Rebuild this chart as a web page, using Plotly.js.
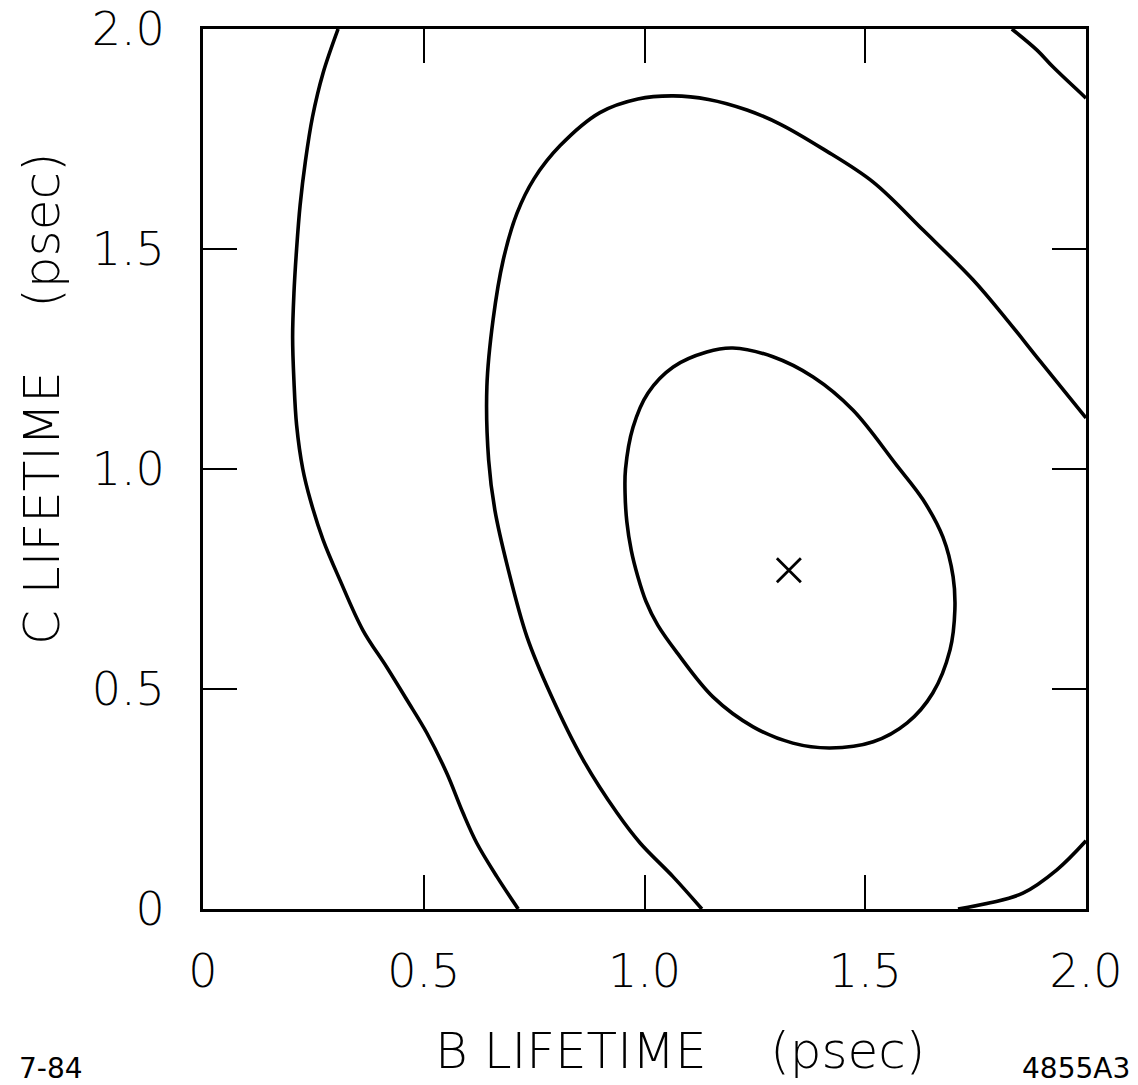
<!DOCTYPE html>
<html>
<head>
<meta charset="utf-8">
<script src="https://cdn.plot.ly/plotly-3.0.1.min.js"></script>
<style>html,body{margin:0;padding:0;background:#fff;}#chart{width:1138px;height:1085px;}</style>
</head>
<body>
<div id="chart"></div>
<script>
// Contour curves (B lifetime, C lifetime in psec)
var outerX = [0.306, 0.272, 0.248, 0.232, 0.220, 0.212, 0.206, 0.203, 0.206, 0.212, 0.226, 0.243, 0.272, 0.310, 0.362, 0.416, 0.462, 0.507, 0.552, 0.589, 0.620, 0.666, 0.714];
var outerY = [2.000, 1.900, 1.800, 1.700, 1.600, 1.500, 1.400, 1.300, 1.200, 1.100, 1.000, 0.930, 0.839, 0.748, 0.634, 0.550, 0.475, 0.400, 0.309, 0.218, 0.150, 0.073, 0.000];

var middleX = [1.130, 1.065, 0.990, 0.938, 0.861, 0.786, 0.734, 0.690, 0.661, 0.647, 0.643, 0.657, 0.680, 0.711, 0.750, 0.809, 0.899, 0.985, 1.065, 1.145, 1.232, 1.307, 1.405, 1.518, 1.631, 1.744, 1.821, 1.896, 2.000];
var middleY = [0.000, 0.073, 0.150, 0.218, 0.339, 0.491, 0.618, 0.777, 0.907, 1.020, 1.187, 1.339, 1.475, 1.581, 1.660, 1.735, 1.810, 1.841, 1.848, 1.840, 1.816, 1.784, 1.727, 1.652, 1.543, 1.430, 1.339, 1.245, 1.116];

var innerX = [1.200, 1.291, 1.382, 1.472, 1.570, 1.631, 1.676, 1.699, 1.703, 1.692, 1.653, 1.595, 1.518, 1.420, 1.336, 1.246, 1.155, 1.074, 1.030, 1.003, 0.985, 0.970, 0.960, 0.956, 0.957, 0.974, 1.008, 1.065, 1.141, 1.200];
var innerY = [1.275, 1.255, 1.209, 1.134, 1.010, 0.930, 0.845, 0.755, 0.680, 0.589, 0.491, 0.423, 0.380, 0.366, 0.377, 0.414, 0.482, 0.582, 0.645, 0.700, 0.755, 0.815, 0.880, 0.945, 1.000, 1.095, 1.173, 1.232, 1.266, 1.275];

var cornerTopX = [1.832, 1.889, 1.925, 2.000];
var cornerTopY = [2.000, 1.952, 1.914, 1.843];

var cornerBottomX = [1.710, 1.783, 1.857, 1.934, 2.000];
var cornerBottomY = [0.000, 0.014, 0.036, 0.089, 0.155];

var bestX = [1.327];
var bestY = [0.770];

var tickVals = [0, 0.5, 1.0, 1.5, 2.0];
var tickText = ['0', '0.5', '1.0', '1.5', '2.0'];

var xTitle = 'B LIFETIME\u00a0\u00a0\u00a0\u00a0(psec)';
var yTitle = 'C LIFETIME\u00a0\u00a0\u00a0\u00a0(psec)';
var dateNote = '7-84';
var figNote = '4855A3';

var lineStyle = {color: '#000', width: 3.6, shape: 'spline', smoothing: 1.0};
function curve(x, y) {
  return {x: x, y: y, type: 'scatter', mode: 'lines', line: lineStyle, hoverinfo: 'skip', showlegend: false, cliponaxis: true};
}

var traces = [
  curve(outerX, outerY),
  curve(middleX, middleY),
  curve(innerX, innerY),
  curve(cornerTopX, cornerTopY),
  curve(cornerBottomX, cornerBottomY),
  {x: bestX, y: bestY, type: 'scatter', mode: 'markers', showlegend: false,
   marker: {symbol: 'x-thin', size: 24, color: '#000', line: {color: '#000', width: 2.8}}}
];

var labelFont = {family: 'DejaVu Sans', size: 46, color: '#000', weight: 200};
var axisCommon = {
  range: [0, 2], tickvals: tickVals, ticktext: tickText,
  showline: true, linecolor: '#000', linewidth: 3, mirror: 'allticks',
  ticks: 'inside', ticklen: 34, tickwidth: 2, tickcolor: '#000',
  showgrid: false, zeroline: false, tickfont: labelFont, fixedrange: true
};

var layout = {
  width: 1138, height: 1085,
  margin: {l: 203, r: 52, t: 29, b: 176, pad: 0},
  paper_bgcolor: '#fff', plot_bgcolor: '#fff',
  showlegend: false,
  xaxis: Object.assign({}, axisCommon, {ticklabelstandoff: 20}),
  yaxis: Object.assign({}, axisCommon, {ticklabelstandoff: 26}),
  annotations: [
    {text: xTitle, xref: 'paper', yref: 'paper', x: 0.540, y: -0.161, xanchor: 'center', yanchor: 'middle',
     showarrow: false, font: {family: 'DejaVu Sans', size: 50, color: '#000', weight: 200}},
    {text: yTitle, xref: 'paper', yref: 'paper', x: -0.183, y: 0.580, xanchor: 'center', yanchor: 'middle',
     textangle: -90, showarrow: false, font: {family: 'DejaVu Sans', size: 50, color: '#000', weight: 200}},
    {text: dateNote, xref: 'paper', yref: 'paper', x: -0.2106, y: -0.181, xanchor: 'left', yanchor: 'middle',
     showarrow: false, font: {family: 'DejaVu Sans', size: 28, color: '#000'}},
    {text: figNote, xref: 'paper', yref: 'paper', x: 1.052, y: -0.181, xanchor: 'right', yanchor: 'middle',
     showarrow: false, font: {family: 'DejaVu Sans', size: 28, color: '#000'}}
  ]
};

Plotly.newPlot('chart', traces, layout, {displayModeBar: false, staticPlot: true});
</script>
</body>
</html>
